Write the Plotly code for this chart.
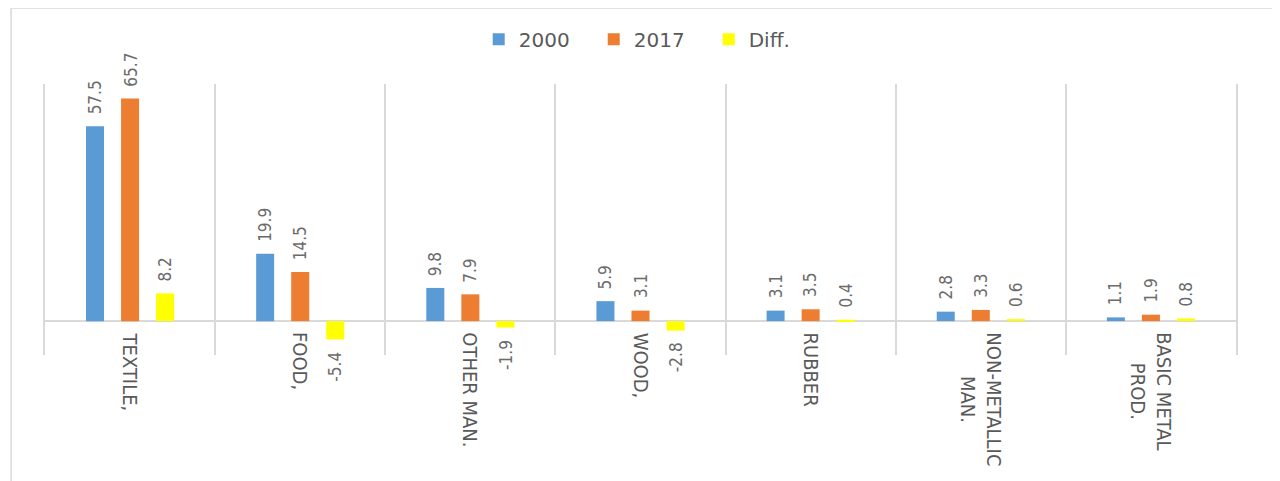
import plotly.graph_objects as go

categories = ["TEXTILE,", "FOOD,", "OTHER MAN.", "WOOD,", "RUBBER",
              "NON-METALLIC<br>MAN.", "BASIC METAL<br>PROD."]
series_names = ["2000", "2017", "Diff."]
v2000 = [57.5, 19.9, 9.8, 5.9, 3.1, 2.8, 1.1]
v2017 = [65.7, 14.5, 7.9, 3.1, 3.5, 3.3, 1.9]
vdiff = [8.2, -5.4, -1.9, -2.8, 0.4, 0.6, 0.8]
colors = ["#5B9BD5", "#ED7D31", "#FFFF00"]

BARGAP = 0.382
BARGROUPGAP = 0.486
NARROW = "DejaVu Sans Condensed, Liberation Sans Narrow, Arial Narrow, sans-serif"
GRID = "#d9d9d9"

fig = go.Figure()
all_series = [v2000, v2017, vdiff]
for name, vals, col in zip(series_names, all_series, colors):
    fig.add_trace(go.Bar(name=name, x=categories, y=vals, marker_color=col,
                         marker_line_width=0))

annotations = []
slot = (1 - BARGAP) / len(all_series)
for j, vals in enumerate(all_series):
    off = (j - (len(all_series) - 1) / 2) * slot
    for i, v in enumerate(vals):
        pos = v >= 0
        annotations.append(dict(
            x=i + off, y=v, xref="x", yref="y", text=f"{v:.1f}",
            showarrow=False, textangle=-90,
            yanchor="bottom" if pos else "top",
            yshift=10 if pos else -10,
            font=dict(family=NARROW, size=17, color="#6b6b6b")))

for i, c in enumerate(categories):
    annotations.append(dict(
        x=i, y=0, xref="x", yref="y", text=c, showarrow=False,
        textangle=90, yanchor="top", xanchor="center", align="center",
        yshift=-9,
        font=dict(family=NARROW, size=20, color="#595959")))

fig.update_layout(
    width=1272, height=473,
    margin=dict(l=37, r=44, t=76, b=126),
    paper_bgcolor="white", plot_bgcolor="white",
    barmode="group", bargap=BARGAP, bargroupgap=BARGROUPGAP,
    showlegend=True,
    legend=dict(orientation="h", x=0.509, xanchor="center", y=1.165,
                yanchor="middle",
                font=dict(family="DejaVu Sans, Verdana, sans-serif",
                          size=20, color="#595959"),
                itemwidth=30, entrywidth=70, entrywidthmode="pixels",
                traceorder="normal"),
    annotations=annotations,
    xaxis=dict(showticklabels=False, ticks="", tickson="boundaries",
               showgrid=True, gridcolor=GRID, gridwidth=2,
               showline=False, zeroline=False),
    yaxis=dict(range=[-10, 70], showticklabels=False, showgrid=False,
               zeroline=True, zerolinecolor=GRID, zerolinewidth=2,
               showline=True, mirror=True, linecolor=GRID, linewidth=2,
               ticks=""),
    shapes=[dict(type="rect", xref="paper", yref="paper",
                 x0=-0.0285, x1=1.0328, y0=-0.6, y1=1.2804,
                 line=dict(color=GRID, width=1.5), fillcolor="rgba(0,0,0,0)",
                 layer="below")],
)

fig.write_html("out.html")
